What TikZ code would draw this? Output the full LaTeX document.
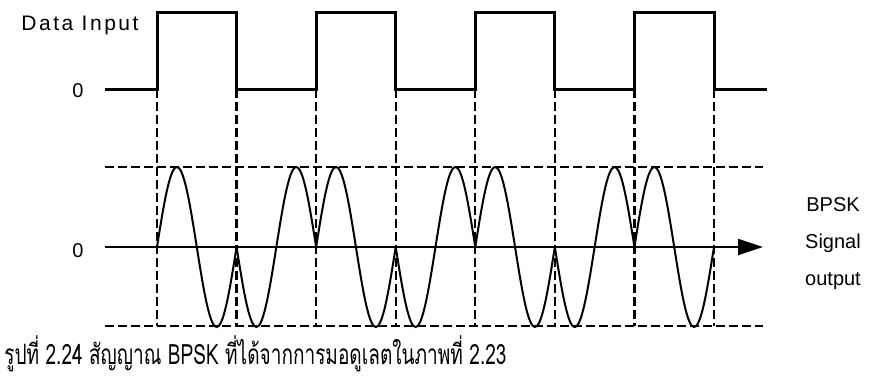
\documentclass[tikz,border=0pt]{standalone}
\usepackage{fontspec}
\setmainfont{Liberation Sans}
\newfontfamily\thaifont[Script=Thai]{Loma}
\usetikzlibrary{arrows.meta,positioning}

\begin{document}
\begin{tikzpicture}[x=1pt,y=-1pt,node distance=38pt,
    lbl/.style={font=\fontsize{20}{24}\selectfont},
    pulse/.style={line width=3pt},
    carrier/.style={line width=2pt},
    guide/.style={line width=2.3pt,dash pattern=on 9pt off 4pt}]
  \useasboundingbox (0,0) rectangle (891,378);
  \def\bitw{79.57}

  % labels
  \node[lbl] (din) at (80,25) {\fontsize{21}{24}\selectfont\addfontfeature{LetterSpace=12}Data Input};
  \node[lbl] (zin) at (78,91) {0};
  \node[lbl] (zout) at (78,251) {0};
  \node[lbl] (bpsk) at (833,205) {BPSK};
  \node[lbl, below of=bpsk] (sig) {Signal};
  \node[lbl, below of=sig] (outp) {output};

  % data input
  \draw[pulse] (105,89) \foreach \k in {0,2,4,6} {
      -- ({157+\k*\bitw},89) -- ({157+\k*\bitw},12)
      -- ({157+(\k+1)*\bitw},12) -- ({157+(\k+1)*\bitw},89)} -- (767,89);

  % guides
  \foreach \k in {0,...,7}
    \draw[guide] ({157+\k*\bitw},89) -- ({157+\k*\bitw},326);
  \draw[guide] (105,167) -- (763,167);
  \draw[guide] (105,326) -- (763,326);

  % axis
  \draw[line width=2pt,-{Triangle[length=25pt,width=16pt]}] (105,247) -- (763,247);

  % BPSK output
  \foreach \k in {0,...,6} {
    \pgfmathsetmacro\sg{1-2*mod(\k,2)}
    \pgfmathsetmacro\xa{157+\k*\bitw}
    \pgfmathsetmacro\xb{157+(\k+1)*\bitw}
    \draw[carrier] plot[domain=\xa:\xb,samples=41,smooth]
      (\x,{247-80*\sg*sin((\x-\xa)/\bitw*360)});
  }

  % caption
  \node[anchor=west,xscale=0.68,font=\thaifont\fontsize{28}{32}\selectfont] (cap) at (2,354)
    {รูปที่ 2.24 สัญญาณ BPSK ที่ได้จากการมอดูเลตในภาพที่ 2.23};
\end{tikzpicture}
\end{document}
